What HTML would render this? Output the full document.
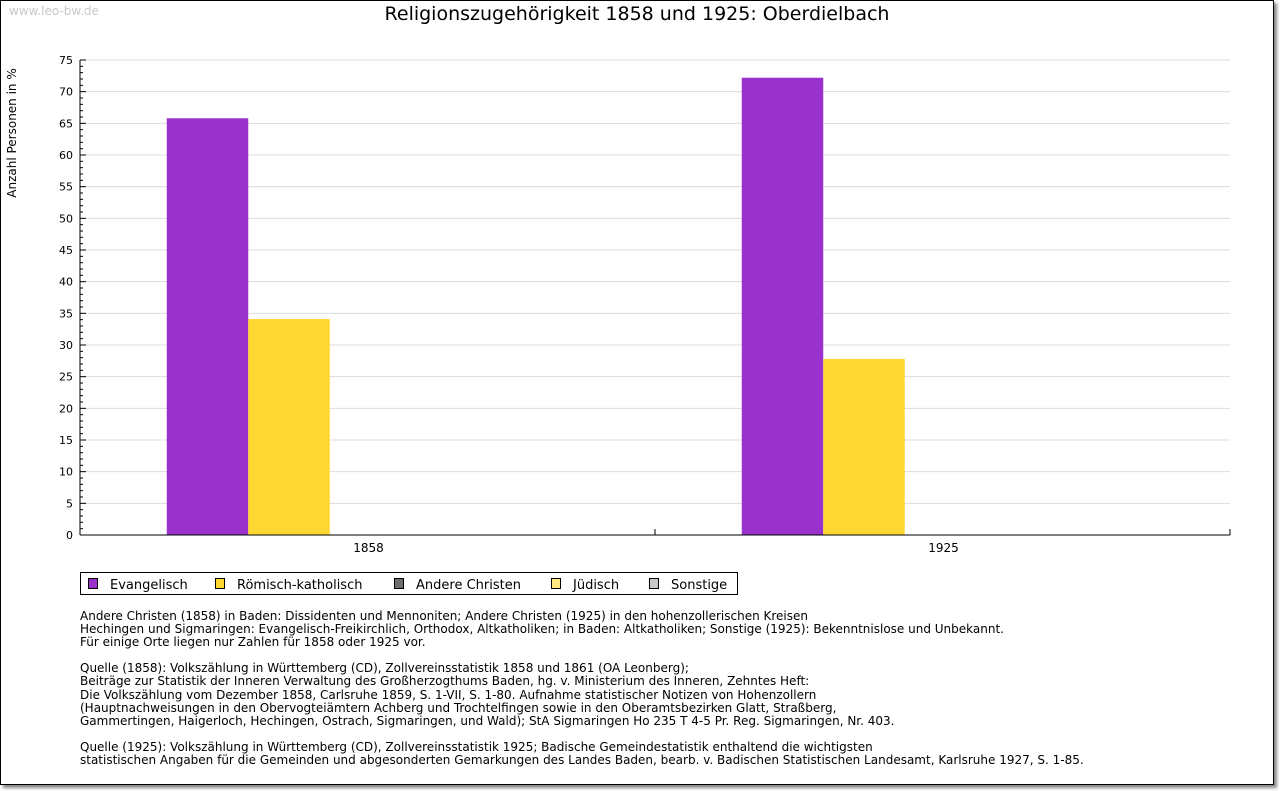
<!DOCTYPE html>
<html><head><meta charset="utf-8"><style>
body{margin:0;background:#fff;width:1280px;height:791px;position:relative;overflow:hidden;font-family:"DejaVu Sans","Liberation Sans",sans-serif;}
#frame{position:absolute;left:0;top:0;width:1272px;height:783px;border:1px solid #000;box-shadow:3px 3px 3px #888;background:#fff;}
.t{position:absolute;white-space:nowrap;color:#000;}
#notes{position:absolute;left:80px;top:610px;font-size:12px;line-height:13.1px;white-space:pre;}
</style></head><body>
<div id="frame"></div>
<div class="t" style="left:9px;top:4px;font-size:12px;color:#c8c8c8">www.leo-bw.de</div>
<div class="t" style="left:0;width:1274px;text-align:center;top:3px;font-size:19px">Religionszugehörigkeit 1858 und 1925: Oberdielbach</div>
<svg id="chart" width="1280" height="600" style="position:absolute;left:0;top:0"></svg>
<div id="notes">Andere Christen (1858) in Baden: Dissidenten und Mennoniten; Andere Christen (1925) in den hohenzollerischen Kreisen
Hechingen und Sigmaringen: Evangelisch-Freikirchlich, Orthodox, Altkatholiken; in Baden: Altkatholiken; Sonstige (1925): Bekenntnislose und Unbekannt.
Für einige Orte liegen nur Zahlen für 1858 oder 1925 vor.

Quelle (1858): Volkszählung in Württemberg (CD), Zollvereinsstatistik 1858 und 1861 (OA Leonberg);
Beiträge zur Statistik der Inneren Verwaltung des Großherzogthums Baden, hg. v. Ministerium des Inneren, Zehntes Heft:
Die Volkszählung vom Dezember 1858, Carlsruhe 1859, S. 1-VII, S. 1-80. Aufnahme statistischer Notizen von Hohenzollern
(Hauptnachweisungen in den Obervogteiämtern Achberg und Trochtelfingen sowie in den Oberamtsbezirken Glatt, Straßberg,
Gammertingen, Haigerloch, Hechingen, Ostrach, Sigmaringen, und Wald); StA Sigmaringen Ho 235 T 4-5 Pr. Reg. Sigmaringen, Nr. 403.

Quelle (1925): Volkszählung in Württemberg (CD), Zollvereinsstatistik 1925; Badische Gemeindestatistik enthaltend die wichtigsten
statistischen Angaben für die Gemeinden und abgesonderten Gemarkungen des Landes Baden, bearb. v. Badischen Statistischen Landesamt, Karlsruhe 1927, S. 1-85.</div>
<script>
const categories=["1858","1925"];
const seriesNames=["Evangelisch","Römisch-katholisch","Andere Christen","Jüdisch","Sonstige"];
const seriesColors=["#9932cc","#ffd732","#6e6e6e","#ffe985","#c8c8c8"];
const evangelisch=[65.8,72.2];
const katholisch=[34.1,27.8];
const andere=[0,0];
const juedisch=[0,0];
const sonstige=[0,0];
const yTicks=[0,5,10,15,20,25,30,35,40,45,50,55,60,65,70,75];
const series=[evangelisch,katholisch,andere,juedisch,sonstige];
const svg=document.getElementById('chart');const NS='http://www.w3.org/2000/svg';
const X0=80,X1=1230,Y0=535,Y1=60,YMAX=75;
const y=v=>Y0-(v/YMAX)*(Y0-Y1);
const gw=(X1-X0)/categories.length,bw=81.5,off=(gw-bw*series.length)/2+3;
function mk(t,a){const e=document.createElementNS(NS,t);for(const k in a)e.setAttribute(k,a[k]);svg.appendChild(e);return e;}
yTicks.forEach(v=>{if(v>0){const g=mk('line',{x1:X0,x2:X1,y1:y(v),y2:y(v),stroke:'#dcdcdc'});}
const t=mk('text',{x:X0-7,y:y(v)+4,'text-anchor':'end','font-size':11,'font-family':'DejaVu Sans, sans-serif'});t.textContent=v;
const tk=mk('line',{x1:X0,x2:X0+6,y1:y(v),y2:y(v),stroke:'#000'});});
for(let v=0;v<YMAX;v++){if(v%5){const m=mk('line',{x1:X0,x2:X0+3,y1:y(v),y2:y(v),stroke:'#000'});}}
categories.forEach((c,i)=>{series.forEach((s,j)=>{if(s[i]>0){const r=mk('rect',{x:X0+i*gw+off+j*bw,y:y(s[i]),width:bw,height:Y0-y(s[i]),fill:seriesColors[j]});}});
const t=mk('text',{x:X0+i*gw+gw/2+1,y:Y0+17,'text-anchor':'middle','font-size':12,'font-family':'DejaVu Sans, sans-serif'});t.textContent=c;
const tk=mk('line',{x1:X0+(i+1)*gw,x2:X0+(i+1)*gw,y1:Y0,y2:Y0-6,stroke:'#000'});});
const ax=mk('line',{x1:X0,x2:X0,y1:Y1,y2:Y0,stroke:'#000'});
const ax2=mk('line',{x1:X0,x2:X1,y1:Y0,y2:Y0,stroke:'#000'});
const yt=mk('text',{x:0,y:0,transform:'translate(16,133) rotate(-90)','text-anchor':'middle','font-size':12,'font-family':'DejaVu Sans, sans-serif'});yt.textContent='Anzahl Personen in %';
const lg=mk('rect',{x:80.5,y:572.5,width:657,height:22,fill:'#fff',stroke:'#000'});
const lx=[88,215,394,551,649];
seriesNames.forEach((n,j)=>{const s=mk('rect',{x:lx[j]+0.5,y:578.5,width:9,height:10,fill:seriesColors[j],stroke:'#000'});
const t=mk('text',{x:lx[j]+22,y:589,'font-size':13,'font-family':'DejaVu Sans, sans-serif'});t.textContent=n;});
</script>
</body></html>
